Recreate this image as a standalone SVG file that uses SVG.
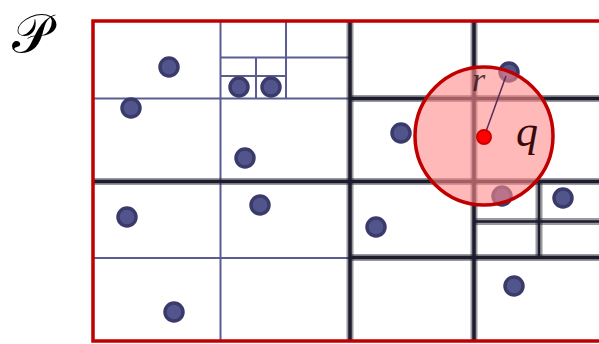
<svg xmlns="http://www.w3.org/2000/svg" width="599" height="344" viewBox="0 0 599 344">
<style>
.thin{stroke:#5a5c92;stroke-width:2;fill:none}
.halo{stroke:#1c1c2c;stroke-opacity:0.45;stroke-width:7;fill:none}
.thick{stroke:#1c1c2c;stroke-width:3.5;fill:none}
.med{stroke:#1c1c2c;stroke-width:2.5;fill:none}
.pt{fill:#52548c;stroke:#3a3b6a;stroke-width:3.5}
</style>
<rect width="599" height="344" fill="#fff"/>
<text x="12" y="52" font-family="DejaVu Sans, 'Liberation Serif', serif" font-size="54" fill="#000">𝒫</text>
<g id="grid-thin">
<line class="thin" x1="220.5" y1="21" x2="220.5" y2="341"/>
<line class="thin" x1="93" y1="98.5" x2="350" y2="98.5"/>
<line class="thin" x1="93" y1="258" x2="350" y2="258"/>
<line class="thin" x1="220.5" y1="57.5" x2="350" y2="57.5"/>
<line class="thin" x1="286" y1="21" x2="286" y2="98.5"/>
<line class="thin" x1="220.5" y1="76" x2="286" y2="76"/>
<line class="thin" x1="256" y1="57.5" x2="256" y2="98.5"/>
</g>
<g id="grid-thick">
<line class="halo" x1="350" y1="21" x2="350" y2="341"/>
<line class="halo" x1="93" y1="181.5" x2="599" y2="181.5"/>
<line class="halo" x1="474" y1="21" x2="474" y2="341"/>
<line class="halo" x1="350" y1="98.5" x2="599" y2="98.5"/>
<line class="halo" x1="350" y1="257.5" x2="599" y2="257.5"/>
<line class="halo" x1="474" y1="221.5" x2="599" y2="221.5" stroke-width="5"/>
<line class="halo" x1="539" y1="181.5" x2="539" y2="257.5" stroke-width="5"/>
<line class="thick" x1="350" y1="21" x2="350" y2="341"/>
<line class="thick" x1="93" y1="181.5" x2="599" y2="181.5"/>
<line class="thick" x1="474" y1="21" x2="474" y2="341"/>
<line class="thick" x1="350" y1="98.5" x2="599" y2="98.5"/>
<line class="thick" x1="350" y1="257.5" x2="599" y2="257.5"/>
<line class="med" x1="474" y1="221.5" x2="599" y2="221.5"/>
<line class="med" x1="539" y1="181.5" x2="539" y2="257.5"/>
</g>
<rect id="border" x="93" y="21" width="520" height="320" fill="none" stroke="#c00000" stroke-width="3.5"/>
<g id="points">
<circle class="pt" cx="169" cy="67" r="9"/>
<circle class="pt" cx="131" cy="108" r="9"/>
<circle class="pt" cx="239" cy="87" r="9"/>
<circle class="pt" cx="271" cy="87" r="9"/>
<circle class="pt" cx="245" cy="158" r="9"/>
<circle class="pt" cx="127" cy="217" r="9"/>
<circle class="pt" cx="260" cy="205" r="9"/>
<circle class="pt" cx="174" cy="312" r="9"/>
<circle class="pt" cx="401" cy="133" r="9"/>
<circle class="pt" cx="509" cy="72" r="9"/>
<circle class="pt" cx="376" cy="227" r="9"/>
<circle class="pt" cx="502" cy="196" r="9"/>
<circle class="pt" cx="563" cy="198" r="9"/>
<circle class="pt" cx="514" cy="286" r="9"/>
</g>
<g id="query">
<circle cx="484" cy="136" r="69" fill="#ff8a8a" fill-opacity="0.6" stroke="#c00000" stroke-width="3.5"/>
<text x="472" y="91" font-family="'Liberation Serif', serif" font-style="italic" font-size="34" fill="#2a1010" fill-opacity="0.8">r</text>
<line x1="484" y1="137" x2="506" y2="76" stroke="#5a2a5a" stroke-width="1.5"/>
<circle cx="484" cy="137" r="7" fill="#ff0000" stroke="#d00000" stroke-width="2"/>
<text x="516" y="146" font-family="'Liberation Serif', serif" font-style="italic" font-size="44" fill="#3a0a0a">q</text>
</g>
</svg>
